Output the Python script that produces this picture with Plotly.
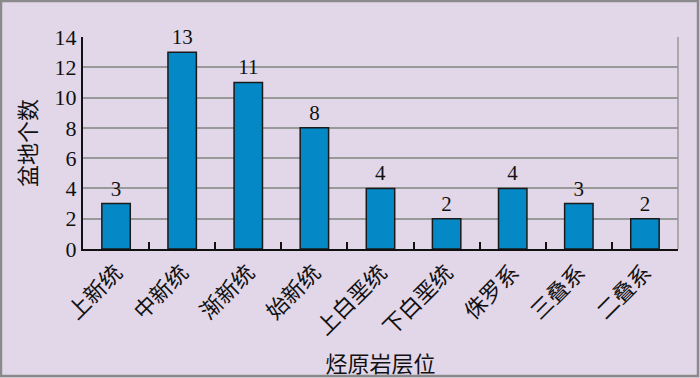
import plotly.graph_objects as go

categories = ["上新统", "中新统", "渐新统", "始新统", "上白垩统", "下白垩统", "侏罗系", "三叠系", "二叠系"]
counts = [3, 13, 11, 8, 4, 2, 4, 3, 2]
y_ticks = [0, 2, 4, 6, 8, 10, 12, 14]

W, H = 700, 378
L, R, T, B = 83, 22, 37, 129
pw, ph = W - L - R, H - T - B

def px(x):
    return (x - L) / pw

def py(y):
    return (H - B - y) / ph

serif = "Liberation Serif, Times New Roman, serif"
cjk = "Noto Sans CJK SC, sans-serif"

fig = go.Figure(go.Bar(
    x=categories, y=counts,
    marker=dict(color="#0589c6", line=dict(color="#1a1a1a", width=1.5)),
    width=0.43,
    text=[str(v) for v in counts], textposition="outside",
    textfont=dict(family=serif, size=21, color="#111"),
    cliponaxis=False,
))

fig.update_layout(
    width=W, height=H,
    margin=dict(l=L, r=R, t=T, b=B, autoexpand=False),
    paper_bgcolor="#e2d7e9", plot_bgcolor="#e2d7e9",
    showlegend=False,
    font=dict(family=cjk, color="#111"),
    xaxis=dict(
        automargin=False,
        tickangle=-45, tickfont=dict(family=cjk, size=22, color="#111"),
        showline=True, linecolor="#111", linewidth=2,
        ticks="inside", tickson="boundaries", ticklen=7, tickcolor="#111", tickwidth=1.5,
        showgrid=False,
        title=dict(text="烃原岩层位", font=dict(family=cjk, size=22, color="#111"), standoff=19),
    ),
    yaxis=dict(
        automargin=False,
        range=[0, 14], tickvals=y_ticks,
        tickfont=dict(family=serif, size=22, color="#111"),
        showline=True, linecolor="#111", linewidth=2,
        showgrid=True, gridcolor="#999999", gridwidth=1.5,
        zeroline=False, ticks="",
        title=dict(text="盆地个数", font=dict(family=cjk, size=22, color="#111"), standoff=12),
    ),
    shapes=[
        dict(type="line", xref="paper", yref="paper", x0=1, x1=1, y0=0, y1=1,
             line=dict(color="#999999", width=1.5)),
        dict(type="rect", xref="paper", yref="paper",
             x0=px(1), x1=px(W - 2), y0=py(H - 2), y1=py(1),
             line=dict(color="#8a8a8a", width=2.5), layer="below"),
    ],
)

fig.write_html("out.html", config={"displayModeBar": False},
               post_script="document.body.style.margin='0';document.body.style.overflow='hidden';")
